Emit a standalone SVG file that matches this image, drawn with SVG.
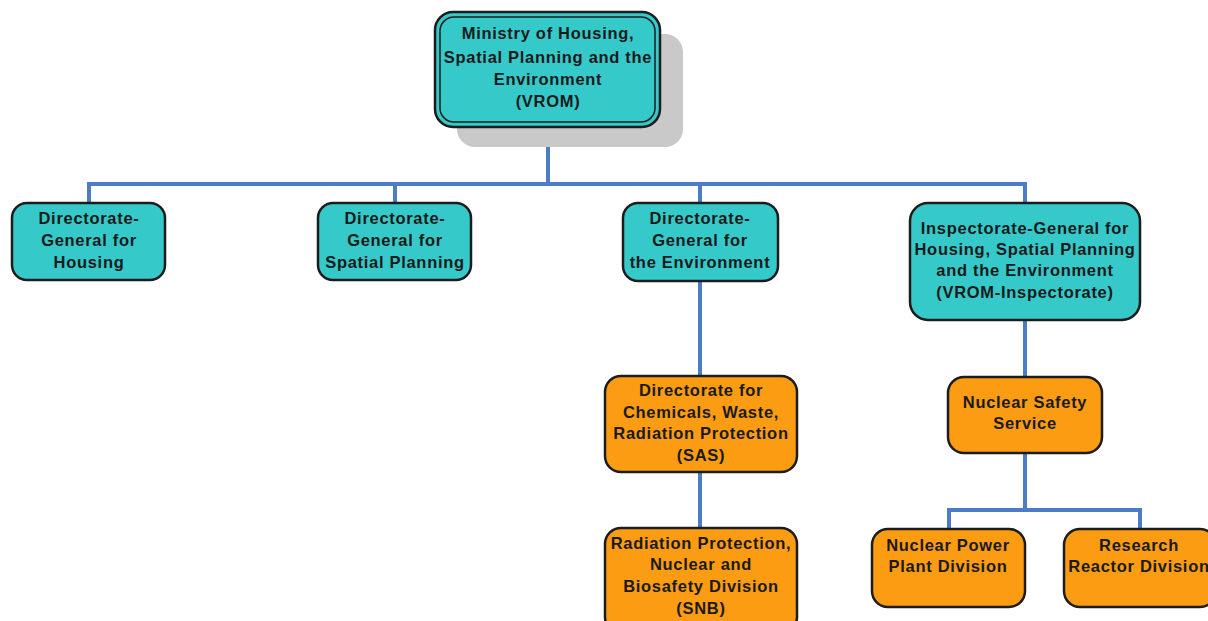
<svg xmlns="http://www.w3.org/2000/svg" width="1208" height="621" viewBox="0 0 1208 621">
<style>
.teal{fill:#35c9c9;stroke:#1c1c1c;stroke-width:2.5}
.orange{fill:#fb9c12;stroke:#1c1c1c;stroke-width:2.5}
.t{font-family:"Liberation Sans",Arial,sans-serif;font-weight:bold;font-size:16.5px;letter-spacing:0.7px;fill:#1a1a1a;text-anchor:middle}
.c{fill:none;stroke:#4d7cc6;stroke-width:4}
</style>
<rect width="1208" height="621" fill="#ffffff"/>
<g id="connectors">
<path class="c" d="M548 127V184M89 203V184H1025V203M395 184V203M700 184V203"/>
<path class="c" d="M700 281V376M700 472V528"/>
<path class="c" d="M1025 320V376M1025 453V510M949 528V510H1140V528"/>
</g>
<g id="vrom">
<rect x="457" y="34" width="226" height="113" rx="18" fill="#c9c9c9"/>
<rect x="435" y="12" width="225" height="115" rx="18" class="teal"/>
<rect x="440" y="17" width="215" height="105" rx="14" fill="none" stroke="#1c1c1c" stroke-width="1.5"/>
<text class="t"><tspan x="548" y="39">Ministry of Housing,</tspan><tspan x="548" y="63">Spatial Planning and the</tspan><tspan x="548" y="85">Environment</tspan><tspan x="548" y="107">(VROM)</tspan></text>
</g>
<g id="dg-housing">
<rect x="12" y="203" width="153" height="77" rx="15" class="teal"/>
<text class="t"><tspan x="89" y="224">Directorate-</tspan><tspan x="89" y="246">General for</tspan><tspan x="89" y="268">Housing</tspan></text>
</g>
<g id="dg-spatial">
<rect x="318" y="203" width="153" height="77" rx="15" class="teal"/>
<text class="t"><tspan x="395" y="224">Directorate-</tspan><tspan x="395" y="246">General for</tspan><tspan x="395" y="268">Spatial Planning</tspan></text>
</g>
<g id="dg-environment">
<rect x="623" y="203" width="155" height="78" rx="15" class="teal"/>
<text class="t"><tspan x="700" y="224">Directorate-</tspan><tspan x="700" y="246">General for</tspan><tspan x="700" y="268">the Environment</tspan></text>
</g>
<g id="vrom-inspectorate">
<rect x="910" y="203" width="230" height="117" rx="18" class="teal"/>
<text class="t"><tspan x="1025" y="234">Inspectorate-General for</tspan><tspan x="1025" y="255">Housing, Spatial Planning</tspan><tspan x="1025" y="276">and the Environment</tspan><tspan x="1025" y="298">(VROM-Inspectorate)</tspan></text>
</g>
<g id="sas">
<rect x="605" y="376" width="192" height="96" rx="16" class="orange"/>
<text class="t"><tspan x="701" y="396">Directorate for</tspan><tspan x="701" y="418">Chemicals, Waste,</tspan><tspan x="701" y="439">Radiation Protection</tspan><tspan x="701" y="461">(SAS)</tspan></text>
</g>
<g id="snb">
<rect x="605" y="528" width="192" height="105" rx="16" class="orange"/>
<text class="t"><tspan x="701" y="549">Radiation Protection,</tspan><tspan x="701" y="570">Nuclear and</tspan><tspan x="701" y="592">Biosafety Division</tspan><tspan x="701" y="614">(SNB)</tspan></text>
</g>
<g id="nuclear-safety">
<rect x="948" y="377" width="154" height="76" rx="16" class="orange"/>
<text class="t"><tspan x="1025" y="408">Nuclear Safety</tspan><tspan x="1025" y="429">Service</tspan></text>
</g>
<g id="npp">
<rect x="872" y="529" width="153" height="78" rx="16" class="orange"/>
<text class="t"><tspan x="948" y="551">Nuclear Power</tspan><tspan x="948" y="572">Plant Division</tspan></text>
</g>
<g id="research">
<rect x="1064" y="529" width="152" height="78" rx="16" class="orange"/>
<text class="t"><tspan x="1139" y="551">Research</tspan><tspan x="1139" y="572">Reactor Division</tspan></text>
</g>
</svg>
